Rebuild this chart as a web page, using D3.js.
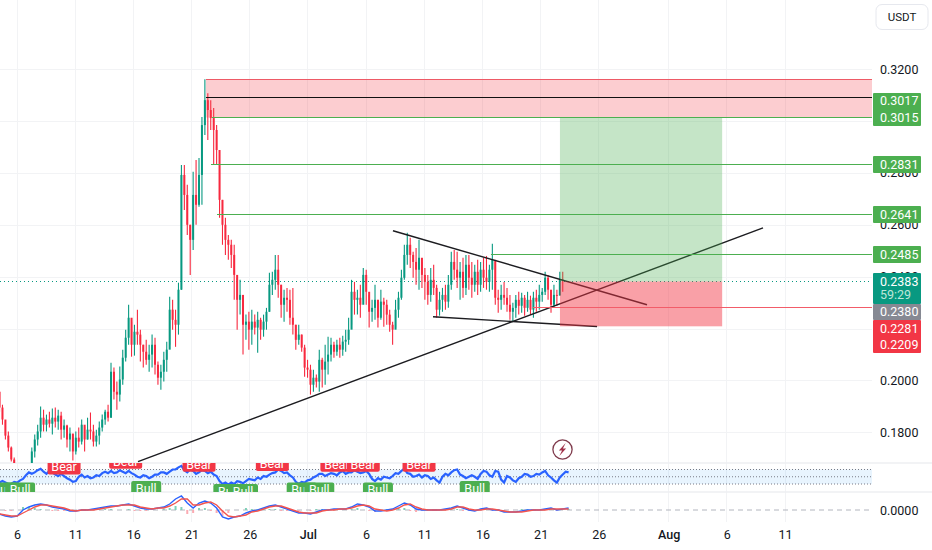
<!DOCTYPE html>
<html>
<head>
<meta charset="utf-8">
<script src="https://cdn.jsdelivr.net/npm/d3@7"></script>
<style>
  html, body { margin: 0; padding: 0; background: #fff; }
  text { font-family: Roboto, "Liberation Sans", sans-serif; }
</style>
</head>
<body>
<div id="svgContainer"></div>
<script>
// price candles, one every 6 hours or so
var highs = [.1957,.1907,.1842,.1804,.1746,.1704,.1677,.1665,.1657,.1673,.1680,.1742,.1792,.1830,.1900,.1888,.1869,.1880,.1892,.1896,.1888,.1880,.1850,.1830,.1819,.1792,.1804,.1819,.1850,.1823,.1857,.1877,.1830,.1811,.1842,.1869,.1888,.1907,.2069,.2050,.1996,.2054,.2119,.2196,.2292,.2227,.2215,.2273,.2196,.2138,.2157,.2138,.2177,.2165,.2073,.2061,.2111,.2150,.2323,.2311,.2273,.2377,.2830,.2830,.2754,.2600,.2804,.2850,.2857,.3015,.3161,.3107,.3080,.3050,.2984,.2830,.2696,.2627,.2561,.2542,.2523,.2396,.2388,.2311,.2254,.2265,.2273,.2254,.2265,.2242,.2254,.2280,.2415,.2419,.2484,.2484,.2369,.2350,.2357,.2350,.2357,.2215,.2215,.2177,.2138,.2080,.2061,.2042,.2023,.2119,.2088,.2138,.2169,.2165,.2150,.2157,.2165,.2173,.2196,.2242,.2388,.2380,.2350,.2369,.2434,.2427,.2330,.2311,.2369,.2311,.2350,.2319,.2311,.2273,.2227,.2311,.2342,.2427,.2523,.2569,.2550,.2496,.2511,.2542,.2457,.2434,.2407,.2434,.2446,.2369,.2342,.2357,.2369,.2407,.2496,.2503,.2496,.2457,.2473,.2484,.2484,.2457,.2446,.2465,.2457,.2473,.2480,.2446,.2527,.2457,.2350,.2369,.2380,.2357,.2330,.2300,.2330,.2342,.2338,.2330,.2342,.2327,.2342,.2350,.2369,.2357,.2419,.2407,.2342,.2369,.2350,.2419,.2419];
var lows = [.1880,.1830,.1773,.1727,.1688,.1650,.1627,.1619,.1611,.1627,.1634,.1673,.1704,.1750,.1780,.1804,.1804,.1819,.1792,.1819,.1811,.1773,.1780,.1742,.1727,.1692,.1715,.1742,.1754,.1727,.1773,.1773,.1746,.1746,.1754,.1804,.1830,.1842,.1857,.1927,.1888,.1919,.1984,.2073,.2138,.2092,.2096,.2138,.2073,.2050,.2061,.2034,.2050,.2023,.1984,.1965,.1996,.2034,.2138,.2196,.2130,.2177,.2350,.2657,.2561,.2407,.2503,.2600,.2669,.2677,.2946,.2927,.2965,.2830,.2830,.2627,.2523,.2484,.2465,.2434,.2311,.2196,.2254,.2100,.2157,.2119,.2138,.2177,.2107,.2157,.2169,.2196,.2265,.2330,.2350,.2319,.2242,.2227,.2265,.2215,.2177,.2119,.2138,.2111,.2015,.2011,.1946,.1957,.1973,.1957,.1973,.1984,.2023,.2073,.2088,.2096,.2088,.2096,.2111,.2138,.2215,.2254,.2254,.2242,.2311,.2292,.2204,.2227,.2234,.2204,.2234,.2207,.2215,.2188,.2138,.2204,.2242,.2311,.2388,.2446,.2434,.2396,.2369,.2350,.2357,.2311,.2292,.2304,.2330,.2242,.2250,.2265,.2273,.2280,.2350,.2388,.2357,.2311,.2319,.2330,.2350,.2319,.2342,.2330,.2342,.2357,.2350,.2342,.2350,.2292,.2261,.2273,.2292,.2265,.2234,.2227,.2242,.2254,.2261,.2250,.2265,.2254,.2242,.2265,.2273,.2304,.2330,.2311,.2261,.2280,.2288,.2330,.2342];
var closes = [.1896,.1850,.1788,.1742,.1696,.1665,.1650,.1638,.1650,.1657,.1665,.1727,.1773,.1804,.1857,.1830,.1850,.1834,.1857,.1842,.1865,.1811,.1827,.1773,.1796,.1727,.1780,.1765,.1830,.1773,.1811,.1804,.1765,.1788,.1819,.1850,.1880,.1857,.2034,.1957,.1946,.2004,.2088,.2165,.2242,.2138,.2188,.2177,.2138,.2111,.2080,.2100,.2138,.2061,.2011,.2034,.2080,.2119,.2273,.2234,.2215,.2350,.2792,.2715,.2600,.2542,.2715,.2677,.2792,.2984,.3080,.3042,.3011,.2965,.2888,.2696,.2600,.2542,.2523,.2484,.2407,.2311,.2330,.2215,.2227,.2196,.2227,.2204,.2234,.2196,.2227,.2265,.2369,.2388,.2427,.2369,.2292,.2319,.2311,.2242,.2215,.2157,.2177,.2127,.2050,.2042,.1984,.2011,.1996,.2080,.2042,.2073,.2100,.2138,.2111,.2138,.2119,.2150,.2157,.2196,.2342,.2311,.2319,.2292,.2407,.2342,.2265,.2280,.2311,.2242,.2304,.2292,.2254,.2215,.2196,.2273,.2319,.2396,.2484,.2523,.2484,.2457,.2427,.2473,.2407,.2380,.2330,.2388,.2357,.2273,.2311,.2330,.2304,.2369,.2457,.2427,.2396,.2419,.2357,.2446,.2396,.2369,.2419,.2369,.2427,.2396,.2380,.2427,.2465,.2319,.2311,.2330,.2319,.2292,.2265,.2280,.2311,.2288,.2319,.2280,.2311,.2273,.2319,.2304,.2330,.2342,.2396,.2350,.2292,.2330,.2327,.2388,.2383];

// RSI, same spacing as the candles
var rsiValues = [34,38,34,30,30,36,34,40,44,54,62,58,62,68,72,64,58,66,62,56,52,58,52,46,42,36,38,50,56,48,52,46,48,54,52,60,64,60,66,60,62,68,64,60,66,60,56,50,48,54,52,46,50,56,56,62,62,58,64,70,70,76,80,68,62,70,66,58,62,68,66,60,64,56,52,38,30,34,28,34,30,38,36,32,38,44,42,40,48,44,52,50,56,60,62,70,66,60,62,54,48,36,30,36,34,40,42,48,52,58,58,52,56,60,58,54,62,66,58,62,62,68,64,60,62,66,58,44,38,46,42,50,48,46,52,60,58,66,72,60,58,50,52,56,48,54,52,44,48,40,34,50,58,54,62,68,70,56,52,46,50,54,50,44,58,66,64,54,50,66,64,42,34,52,48,40,36,46,50,58,56,50,52,58,56,62,66,54,48,40,34,48,56,64,62];
// MACD, one reading every 12 hours or so, in units of 0.0001
var macdLine = [-16,-24,-28,-24,0,12,20,24,20,12,8,4,-4,-4,0,0,4,8,12,16,16,20,24,16,8,4,4,8,12,24,44,56,28,8,28,36,28,8,-28,-36,-28,-24,-12,-4,0,8,16,20,12,4,-4,-12,-12,-16,-8,0,0,4,4,4,12,24,20,12,-4,-4,0,4,16,28,20,4,0,0,0,0,4,8,16,8,0,-4,4,8,0,0,-8,-8,-8,-4,0,0,0,4,8,0,4,8];
var signalLine = [-16,-20,-24,-24,-12,0,12,20,20,16,12,8,0,-4,0,0,0,4,8,12,16,20,20,20,12,8,4,8,8,16,28,44,44,20,20,28,32,20,-4,-24,-28,-24,-20,-8,-4,4,12,16,16,8,0,-8,-12,-12,-12,-4,0,0,4,4,8,16,20,16,4,0,-4,0,8,20,24,12,4,0,0,0,0,4,12,12,4,0,0,4,4,0,-4,-8,-8,-8,-4,0,0,0,4,4,4,4];

// Bear / Bull tags: candle index and the RSI they hang from
var bearIndex = [22,43,68,93,115,124,143];
var bearRsi = [56,72,64,66,64,64,64];
var bullIndex = [1,7,50,78,83,103,109,129,162];
var bullRsi = [34,34,38,30,30,34,34,34,38];

// axes
var priceTicks = [0.32,0.30,0.28,0.26,0.24,0.22,0.20,0.18];
var timeTicks = ["2025-06-06","2025-06-11","2025-06-16","2025-06-21","2025-06-26","2025-07-01","2025-07-06","2025-07-11","2025-07-16","2025-07-21","2025-07-26","2025-08-01","2025-08-06","2025-08-11"];
var timeLabels = ["6","11","16","21","26","Jul","6","11","16","21","26","Aug","6","11"];

// drawings: prices, and days counted from the 6 June tick
var channelTop = 0.3160, blackLevel = 0.3090, targetLevel = 0.3015, entryLevel = 0.2383, stopLevel = 0.2209;
var greenLevels = [0.3015,0.2831,0.2641,0.2485];
var greenStarts = [16.76,16.67,17.19,40.73];
var redLevel = 0.2281, redStart = 44.35;
var channelStart = 16.24, boxStart = 46.66, boxEnd = 60.6;
var lastPrice = 0.2383;
var trendDays = [[10.40,64.11],[32.31,54.14],[35.75,49.85]];
var trendPrices = [[0.1688,0.2588],[0.2577,0.2292],[0.2246,0.2208]];

var width = 932, height = 550, plotRight = 872;
var mainBottom = 463, rsiBottom = 492, gridBottom = 522;

var fromDay = function(n) { return new Date(Date.UTC(2025, 5, 6) + n * 864e5); };
var candleStart = fromDay(-1.5);
var candleDate = function(i) { return new Date(+candleStart + i * 6.05 * 36e5); };
// keep one pixel lines on a pixel row
var snap = function(v) { return Math.floor(v) + 0.5; };

var x = d3.scaleUtc().domain([fromDay(0), fromDay(66)]).range([17, 785]);
var y = d3.scaleLinear().domain([0.32, 0.18]).range([69, 432.5]);
var rsiY = d3.scaleLinear().domain([70, 30]).range([469.5, 484]);
var macdY = d3.scaleLinear().domain([0, 0.0040]).range([510, 500]);

var svg = d3.select("#svgContainer").append("svg")
    .attr("width", width)
    .attr("height", height)
    .style("display", "block");

var defs = svg.append("defs");
defs.append("clipPath").attr("id", "clipMain").append("rect")
    .attr("width", plotRight).attr("height", mainBottom);
defs.append("clipPath").attr("id", "clipRsi").append("rect")
    .attr("y", mainBottom).attr("width", plotRight).attr("height", rsiBottom - mainBottom);

// grid
var timeDates = timeTicks.map(function(d) { return new Date(d + "T00:00:00Z"); });
svg.append("g").selectAll("line").data(timeDates).enter().append("line")
    .attr("x1", function(d) { return snap(x(d)); }).attr("x2", function(d) { return snap(x(d)); })
    .attr("y1", 0).attr("y2", gridBottom)
    .attr("stroke", "#f2f3f5").attr("stroke-width", 1);
svg.append("g").selectAll("line").data(priceTicks).enter().append("line")
    .attr("x1", 0).attr("x2", plotRight)
    .attr("y1", function(d) { return snap(y(d) + 0.4); }).attr("y2", function(d) { return snap(y(d) + 0.4); })
    .attr("stroke", "#f2f3f5").attr("stroke-width", 1);
[mainBottom, rsiBottom].forEach(function(v) {
  svg.append("line").attr("x1", 0).attr("x2", width).attr("y1", v).attr("y2", v)
      .attr("stroke", "#eeeff2").attr("stroke-width", 1.5);
});

var main = svg.append("g").attr("clip-path", "url(#clipMain)");

// last price dotted line
main.append("line")
    .attr("x1", 0).attr("x2", plotRight)
    .attr("y1", snap(y(lastPrice))).attr("y2", snap(y(lastPrice)))
    .attr("stroke", "#089981").attr("stroke-dasharray", "1 3");

// candles
var candles = main.append("g").selectAll("g")
    .data(closes.map(function(c, i) {
      return { i: i, close: c, open: i ? closes[i - 1] : highs[0], high: highs[i], low: lows[i] };
    }))
  .enter().append("g")
    .attr("stroke", function(d) { return d.close >= d.open ? "#089981" : "#f7293f"; })
    .attr("fill", function(d) { return d.close >= d.open ? "#089981" : "#f7293f"; });
candles.append("line")
    .attr("x1", function(d) { return x(candleDate(d.i)); })
    .attr("x2", function(d) { return x(candleDate(d.i)); })
    .attr("y1", function(d) { return y(d.high); })
    .attr("y2", function(d) { return y(d.low); })
    .attr("stroke-width", 1.1);
candles.append("rect")
    .attr("x", function(d) { return x(candleDate(d.i)) - 1; })
    .attr("width", 2)
    .attr("y", function(d) { return y(Math.max(d.open, d.close)); })
    .attr("height", function(d) { return Math.max(1, Math.abs(y(d.open) - y(d.close))); })
    .attr("stroke", "none");

// trend lines, under the position boxes
main.append("g").selectAll("line").data(trendDays).enter().append("line")
    .attr("x1", function(d) { return x(fromDay(d[0])); })
    .attr("x2", function(d) { return x(fromDay(d[1])); })
    .attr("y1", function(d, i) { return y(trendPrices[i][0]); })
    .attr("y2", function(d, i) { return y(trendPrices[i][1]); })
    .attr("stroke", "#1c1c20").attr("stroke-width", 1.4);

// zones
main.append("rect")
    .attr("x", x(fromDay(channelStart))).attr("width", plotRight - x(fromDay(channelStart)))
    .attr("y", snap(y(channelTop))).attr("height", snap(y(targetLevel)) - snap(y(channelTop)))
    .attr("fill", "#f23645").attr("fill-opacity", 0.25);
main.append("line")
    .attr("x1", x(fromDay(channelStart))).attr("x2", plotRight)
    .attr("y1", snap(y(channelTop))).attr("y2", snap(y(channelTop)))
    .attr("stroke", "#ee5a66").attr("stroke-width", 1);
main.append("rect")
    .attr("x", x(fromDay(boxStart))).attr("width", x(fromDay(boxEnd)) - x(fromDay(boxStart)))
    .attr("y", snap(y(targetLevel))).attr("height", snap(y(entryLevel)) - snap(y(targetLevel)))
    .attr("fill", "#4caf50").attr("fill-opacity", 0.32);
main.append("rect")
    .attr("x", x(fromDay(boxStart))).attr("width", x(fromDay(boxEnd)) - x(fromDay(boxStart)))
    .attr("y", snap(y(entryLevel))).attr("height", y(stopLevel) - snap(y(entryLevel)))
    .attr("fill", "#f23645").attr("fill-opacity", 0.47);

// horizontal levels
main.append("line")
    .attr("x1", x(fromDay(channelStart))).attr("x2", plotRight)
    .attr("y1", snap(y(blackLevel))).attr("y2", snap(y(blackLevel)))
    .attr("stroke", "#111").attr("stroke-width", 1);
main.append("g").selectAll("line").data(greenLevels).enter().append("line")
    .attr("x1", function(d, i) { return x(fromDay(greenStarts[i])); })
    .attr("x2", plotRight)
    .attr("y1", function(d) { return snap(y(d)); }).attr("y2", function(d) { return snap(y(d)); })
    .attr("stroke", "#4caf50").attr("stroke-width", 1);
main.append("line")
    .attr("x1", x(fromDay(redStart))).attr("x2", plotRight)
    .attr("y1", snap(y(redLevel))).attr("y2", snap(y(redLevel)))
    .attr("stroke", "#f25c69").attr("stroke-width", 1.2);

// flash icon above the last bar
var icon = svg.append("g").attr("transform", "translate(562.5,449.5)");
icon.append("circle").attr("r", 9.6).attr("fill", "#fff")
    .attr("stroke", "#7f3b4c").attr("stroke-width", 1.3);
icon.append("path").attr("d", "M3.2,-6.4L-3.6,1L-0.4,1L-3.2,6.4L3.6,-1L0.4,-1Z")
    .attr("fill", "#a0324a");

// RSI pane
var rsiPane = svg.append("g").attr("clip-path", "url(#clipRsi)");
rsiPane.append("rect")
    .attr("x", 0).attr("width", plotRight)
    .attr("y", rsiY(70)).attr("height", rsiY(30) - rsiY(70))
    .attr("fill", "#2196f3").attr("fill-opacity", 0.1);
rsiPane.append("g").selectAll("line").data([70, 50, 30]).enter().append("line")
    .attr("x1", 0).attr("x2", plotRight)
    .attr("y1", function(d) { return rsiY(d); }).attr("y2", function(d) { return rsiY(d); })
    .attr("stroke", "#787b86").attr("stroke-dasharray", "1 2");

rsiPane.append("path").datum(rsiValues)
    .attr("d", d3.line()
        .x(function(d, i) { return x(candleDate(i)); })
        .y(function(d) { return rsiY(d); }))
    .attr("fill", "none").attr("stroke", "#2962ff").attr("stroke-width", 2.2);

var tag = function(index, rsi, color, label, up) {
  var g = rsiPane.append("g").selectAll("g").data(index).enter().append("g")
      .attr("transform", function(d, i) {
        return "translate(" + x(candleDate(d)) + "," + (rsiY(rsi[i]) + (up ? -7.5 : 7.5)) + ")";
      });
  g.append("rect").attr("x", up ? -16.5 : -15).attr("y", -7.5)
      .attr("width", up ? 33 : 30).attr("height", 15).attr("rx", 2)
      .attr("fill", color);
  g.append("text").attr("text-anchor", "middle").attr("dy", "0.35em")
      .attr("font-size", 12.5).attr("fill", "#fff")
      .text(label);
};
tag(bullIndex, bullRsi, "#4caf50", "Bull", false);
tag(bearIndex, bearRsi, "#f23645", "Bear", true);

// MACD pane
var macdValues = macdLine.map(function(v) { return v / 1e4; });
var signalValues = signalLine.map(function(v) { return v / 1e4; });
var macdDate = function(i) { return new Date(+candleStart + i * 12.1 * 36e5); };
var macdPath = d3.line()
    .x(function(d, i) { return x(macdDate(i)); })
    .y(function(d) { return macdY(d); });
svg.append("line").attr("x1", 0).attr("x2", plotRight)
    .attr("y1", macdY(0)).attr("y2", macdY(0))
    .attr("stroke", "#b2b5be").attr("stroke-dasharray", "5 4");
svg.append("g").selectAll("rect").data(macdValues).enter().append("rect")
    .attr("x", function(d, i) { return x(macdDate(i)) - 1; })
    .attr("width", 2)
    .attr("y", function(d, i) { return Math.min(macdY(0), macdY(d - signalValues[i])); })
    .attr("height", function(d, i) { return Math.abs(macdY(d - signalValues[i]) - macdY(0)); })
    .attr("fill", function(d, i) { return d >= signalValues[i] ? "#7fd0b8" : "#fbaab2"; });
svg.append("path").datum(macdValues)
    .attr("d", macdPath)
    .attr("fill", "none").attr("stroke", "#2962ff").attr("stroke-width", 1.4);
svg.append("path").datum(signalValues)
    .attr("d", macdPath)
    .attr("fill", "none").attr("stroke", "#f2544f").attr("stroke-width", 1.4);

// time axis
var xAxis = d3.axisBottom(x)
    .tickValues(timeDates)
    .tickSize(0)
    .tickPadding(0)
    .tickFormat(function(d, i) { return timeLabels[i]; });
var xG = svg.append("g").attr("transform", "translate(0,530.5)").call(xAxis);
xG.select(".domain").remove();
xG.selectAll("text")
    .style("font-family", "Roboto, sans-serif")
    .style("font-size", "12.5px")
    .style("fill", "#131722")
    .style("font-weight", function(d, i) { return isNaN(+timeLabels[i]) ? 500 : 400; });

// price axis
var priceAxis = d3.axisRight(y)
    .tickValues(priceTicks)
    .tickSize(0)
    .tickPadding(0)
    .tickFormat(d3.format(".4f"));
var yG = svg.append("g").attr("transform", "translate(880,0)").call(priceAxis);
yG.select(".domain").remove();
yG.selectAll("text")
    .style("font-family", "Roboto, sans-serif")
    .style("font-size", "12.5px")
    .style("fill", "#131722");

var zeroAxis = d3.axisRight(macdY).tickValues([0]).tickSize(0).tickPadding(0).tickFormat(d3.format(".4f"));
var zG = svg.append("g").attr("transform", "translate(880,0)").call(zeroAxis);
zG.select(".domain").remove();
zG.selectAll("text")
    .style("font-family", "Roboto, sans-serif")
    .style("font-size", "12.5px")
    .style("fill", "#131722");

// price tags on the axis
var priceTag = function(top, bottom, color, rows) {
  svg.append("rect").attr("x", 873).attr("y", top)
      .attr("width", 48).attr("height", bottom - top).attr("rx", 1)
      .attr("fill", color);
  rows.forEach(function(r) {
    svg.append("text").attr("x", 880).attr("y", r[1]).attr("dy", "0.35em")
        .attr("font-size", 12.5).attr("fill", r[2] || "#fff")
        .text(r[0]);
  });
};
priceTag(93, 126, "#4caf50", [["0.3017", 101], ["0.3015", 117.5]]);
priceTag(156, 173, "#4caf50", [["0.2831", 164.5]]);
priceTag(206, 223, "#4caf50", [["0.2641", 214.5]]);
priceTag(246, 263, "#4caf50", [["0.2485", 254.5]]);
priceTag(273, 304, "#089981", [["0.2383", 281.5], ["59:29", 295, "#bfe6da"]]);
priceTag(304, 320, "#868993", [["0.2380", 312]]);
priceTag(320, 353, "#f23645", [["0.2281", 328.5], ["0.2209", 345]]);

// currency button
svg.append("rect").attr("x", 876).attr("y", 4.5).attr("width", 52).attr("height", 25).attr("rx", 6)
    .attr("fill", "#fff").attr("stroke", "#e6e8ee");
svg.append("text").attr("x", 902).attr("y", 17).attr("dy", "0.35em")
    .attr("text-anchor", "middle").attr("font-size", 11.5).attr("fill", "#131722")
    .text("USDT");
</script>
</body>
</html>
